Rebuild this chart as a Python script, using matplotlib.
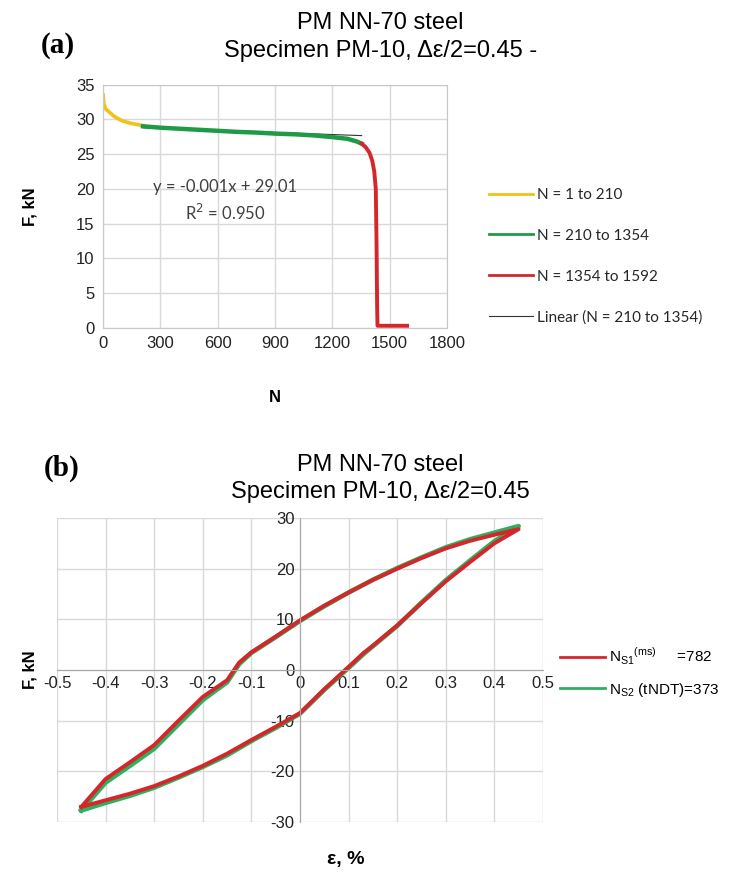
import matplotlib
matplotlib.use("Agg")
import matplotlib.pyplot as plt

# ---- panel (a): force vs cycles ----
yellow_N = [1, 1, 1, 5, 15, 35, 60, 100, 150, 210]
yellow_F = [0, 20, 33.5, 32.2, 31.5, 31.0, 30.4, 29.8, 29.4, 29.1]
green_N = [210, 300, 400, 500, 600, 700, 800, 900, 1000, 1100, 1200, 1280, 1330, 1354]
green_F = [29.0, 28.8, 28.65, 28.5, 28.35, 28.2, 28.1, 27.95, 27.85, 27.7, 27.45, 27.2, 26.8, 26.5]
red_N = [1354, 1375, 1395, 1410, 1420, 1428, 1432, 1435, 1437, 1500, 1592]
red_F = [26.5, 26.0, 25.2, 24.0, 22.5, 20.0, 12.0, 3.0, 0.3, 0.3, 0.3]
trend_N = [210, 1354]
trend_F = [28.80, 27.66]
labels_a = ["N = 1 to 210", "N = 210 to 1354", "N = 1354 to 1592", "Linear (N = 210 to 1354)"]

# ---- panel (b): hysteresis loops ----
eps_s1 = [-0.45, -0.40, -0.35, -0.30, -0.25, -0.20, -0.15, -0.125, -0.10, -0.05, 0.0, 0.05,
          0.10, 0.15, 0.20, 0.25, 0.30, 0.35, 0.40, 0.45,
          0.40, 0.35, 0.30, 0.25, 0.20, 0.15, 0.13, 0.11, 0.05, 0.0, -0.05, -0.10, -0.15,
          -0.20, -0.25, -0.30, -0.35, -0.40, -0.45]
F_s1 = [-27.0, -21.5, -18.2, -14.8, -10.0, -5.3, -2.0, 1.5, 3.5, 6.6, 9.8, 12.7,
        15.3, 17.8, 20.0, 22.1, 24.0, 25.5, 26.7, 27.8,
        25.0, 21.3, 17.5, 13.2, 8.8, 4.8, 3.3, 1.5, -3.8, -8.5, -11.2, -13.8, -16.5,
        -18.9, -21.0, -22.9, -24.4, -25.7, -27.0]
eps_s2 = list(eps_s1)
F_s2 = [-27.7, -22.2, -18.9, -15.5, -10.7, -5.9, -2.4, 1.2, 3.4, 6.5, 9.7, 12.6,
        15.3, 17.8, 20.1, 22.2, 24.2, 25.8, 27.1, 28.4,
        25.4, 21.6, 17.7, 13.3, 8.7, 4.7, 3.1, 1.3, -3.9, -8.6, -11.4, -14.0, -16.8,
        -19.1, -21.2, -23.2, -24.8, -26.2, -27.7]
labels_b = [r"N$_{\mathregular{S1}}$$^{\mathregular{(ms)}}$     =782",
            r"N$_{\mathregular{S2}}$ (tNDT)=373"]

YELLOW = "#f2c21b"
GREEN = "#1f9a47"
RED = "#d5272b"
GRID = "#d9d9d9"

plt.rcParams["font.family"] = ["Liberation Sans", "DejaVu Sans"]
plt.rcParams["axes.unicode_minus"] = False

fig = plt.figure(figsize=(7.35, 8.72), dpi=100)

# ================= (a) =================
ax1 = fig.add_axes([0.140, 0.624, 0.468, 0.279])
ax1.plot(yellow_N[:3], yellow_F[:3], color=YELLOW, lw=1.3, solid_capstyle="butt")
ax1.plot(yellow_N[2:], yellow_F[2:], color=YELLOW, lw=2.6, label=labels_a[0])
ax1.plot(trend_N, trend_F, color="#333333", lw=0.8, zorder=1.9)
ax1.plot(green_N, green_F, color=GREEN, lw=3.2, label=labels_a[1])
ax1.plot(red_N, red_F, color=RED, lw=2.8, label=labels_a[2])
ax1.plot([], [], color="#333333", lw=0.8, label=labels_a[3])
ax1.set_xlim(0, 1800)
ax1.set_ylim(0, 35)
ax1.set_xticks(range(0, 1801, 300))
ax1.set_yticks(range(0, 36, 5))
ax1.grid(True, color=GRID, lw=1)
ax1.set_axisbelow(True)
for s in ax1.spines.values():
    s.set_color("#c8c8c8")
ax1.tick_params(length=0, labelsize=12, pad=6, colors="#222222")
ax1.set_xlabel("N", fontsize=12, fontweight="bold", labelpad=28)
ax1.set_ylabel("F, kN", fontsize=12, fontweight="bold", labelpad=28)
ax1.text(640, 20.2, "y = -0.001x + 29.01", fontsize=12, color="#404040",
         ha="center", va="center", family=["Lato", "DejaVu Sans"])
ax1.text(640, 16.6, "R$^{2}$ = 0.950", fontsize=12, color="#404040",
         ha="center", va="center", family=["Lato", "DejaVu Sans"])
leg1 = ax1.legend(loc="center left", bbox_to_anchor=(0.655, 0.706),
                  bbox_transform=fig.transFigure, frameon=False,
                  handlelength=2.9, handletextpad=0.25, labelspacing=1.75,
                  borderpad=0, prop={"family": ["Lato", "DejaVu Sans"], "size": 11})
for ln in leg1.get_lines()[:3]:
    ln.set_linewidth(2.0)
for t in leg1.get_texts():
    t.set_color("#262626")

fig.text(0.518, 0.974, "PM NN-70 steel", ha="center", va="center", fontsize=17)
fig.text(0.518, 0.942, "Specimen PM-10, Δε/2=0.45 -", ha="center",
         va="center", fontsize=17)
fig.text(0.055, 0.948, "(a)", ha="left", va="center", fontsize=21, fontweight="bold",
         family=["Liberation Serif", "DejaVu Serif"])

# ================= (b) =================
ax2 = fig.add_axes([0.0776, 0.0573, 0.661, 0.3486])
ax2.plot(eps_s2, F_s2, color="#2fb05e", lw=3.4, label=labels_b[1])
ax2.plot(eps_s1, F_s1, color=RED, lw=2.8, label=labels_b[0])
ax2.set_xlim(-0.5, 0.5)
ax2.set_ylim(-30, 30)
ax2.set_xticks([-0.5, -0.4, -0.3, -0.2, -0.1, 0, 0.1, 0.2, 0.3, 0.4, 0.5])
ax2.set_xticklabels(["-0.5", "-0.4", "-0.3", "-0.2", "-0.1", "0", "0.1", "0.2", "0.3", "0.4", "0.5"])
ax2.set_yticks(range(-30, 31, 10))
ax2.grid(True, color=GRID, lw=1)
ax2.set_axisbelow(True)
ax2.spines["left"].set_position("zero")
ax2.spines["bottom"].set_position("zero")
ax2.spines["left"].set_color("#a8a8a8")
ax2.spines["bottom"].set_color("#a8a8a8")
ax2.spines["top"].set_visible(False)
ax2.spines["right"].set_visible(False)
ax2.tick_params(length=0, labelsize=12, pad=4, colors="#222222")
fig.text(0.041, 0.232, "F, kN", rotation=90, ha="center", va="center",
         fontsize=12, fontweight="bold")
fig.text(0.47, 0.014, "ε, %", ha="center", va="center", fontsize=14, fontweight="bold")
h, l = ax2.get_legend_handles_labels()
leg2 = ax2.legend([h[1], h[0]], [l[1], l[0]], loc="center left", bbox_to_anchor=(0.752, 0.229),
                  bbox_transform=fig.transFigure, frameon=False,
                  handlelength=2.9, handletextpad=0.3, labelspacing=0.9,
                  borderpad=0, prop={"size": 11})
for ln in leg2.get_lines():
    ln.set_linewidth(2.0)

fig.text(0.518, 0.467, "PM NN-70 steel", ha="center", va="center", fontsize=17)
fig.text(0.518, 0.436, "Specimen PM-10, Δε/2=0.45", ha="center",
         va="center", fontsize=17)
fig.text(0.06, 0.463, "(b)", ha="left", va="center", fontsize=21, fontweight="bold",
         family=["Liberation Serif", "DejaVu Serif"])

fig.savefig("out.png", dpi=100, facecolor="white")
